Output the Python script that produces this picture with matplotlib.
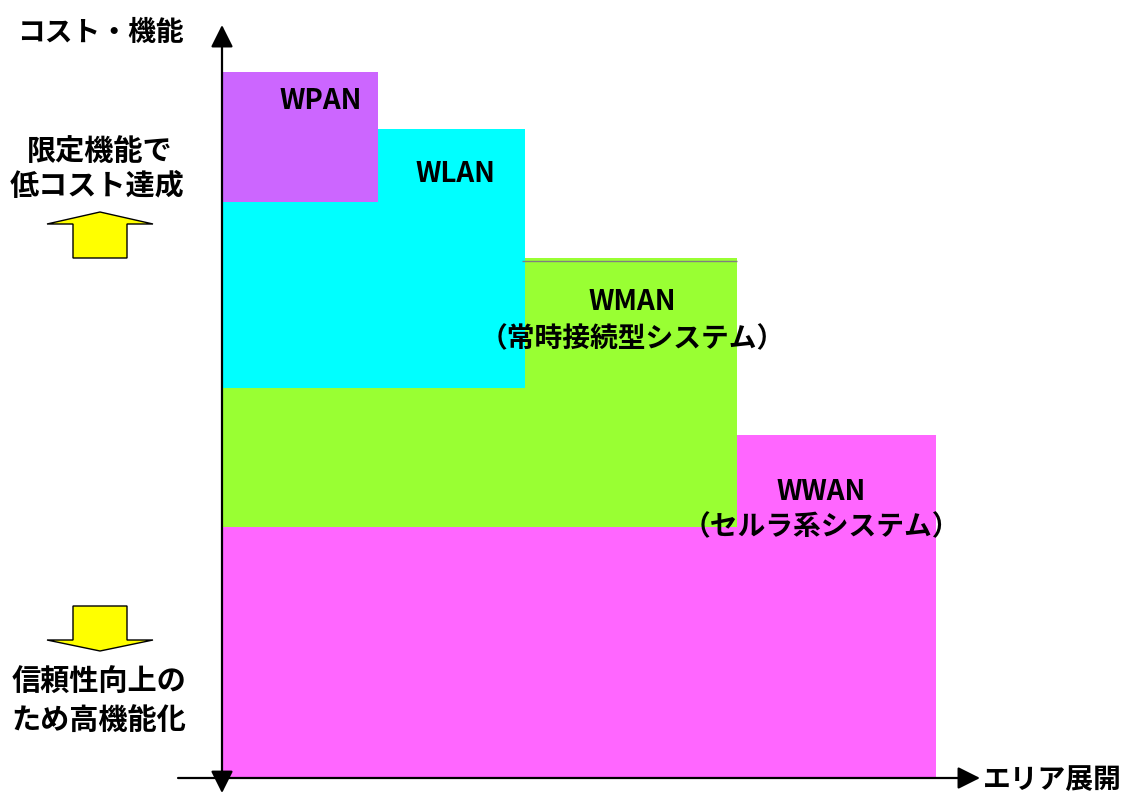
import matplotlib
matplotlib.use('Agg')
import matplotlib.pyplot as plt
from matplotlib.patches import FancyArrow

plt.rcParams['font.family'] = ['Noto Sans CJK JP', 'DejaVu Sans']

# wireless systems: area reach (x) and cost/function band (y), abstract units
systems = ['WWAN', 'WMAN', 'WLAN', 'WPAN']
area_start = [0, 0, 0, 0]
area_end = [9.42, 6.8, 4.0, 2.06]
cost_low = [0, 3.33, 5.18, 7.65]
cost_high = [4.56, 6.9, 8.62, 9.38]
colors = ['#FF66FF', '#99FF33', '#00FFFF', '#CC66FF']

sub_labels = {'WMAN': '（常時接続型システム）', 'WWAN': '（セルラ系システム）'}

W, H = 1122, 794
fig = plt.figure(figsize=(W / 100, H / 100), dpi=100)
fig.patch.set_facecolor('white')

# main chart area: origin at the axis crossing
ax = fig.add_axes([222 / W, 16 / H, 758 / W, 753 / H])
ax.set_xlim(0, 10)
ax.set_ylim(0, 10)
ax.axis('off')

for i, name in enumerate(systems):
    ax.bar(area_start[i], cost_high[i] - cost_low[i], width=area_end[i] - area_start[i],
           bottom=cost_low[i], align='edge', color=colors[i], linewidth=0, zorder=i + 1)

# thin grey edge along the top of the WMAN step
ax.hlines(cost_high[1] - 0.04, area_end[2] - 0.04, area_end[1], color='#808080', lw=1, zorder=5)

# axes with arrow heads
ax.annotate('', xy=(0, 10), xytext=(0, -0.2), xycoords='data',
            arrowprops=dict(arrowstyle='<|-|>', mutation_scale=34, lw=1.6, color='black',
                            shrinkA=0, shrinkB=0), annotation_clip=False, zorder=10)
ax.annotate('', xy=(10, 0), xytext=(-0.58, 0), xycoords='data',
            arrowprops=dict(arrowstyle='-|>', mutation_scale=34, lw=1.6, color='black',
                            shrinkA=0, shrinkB=0), annotation_clip=False, zorder=10)

# overlay in pixel space for labels and block arrows
ov = fig.add_axes([0, 0, 1, 1])
ov.set_xlim(0, W)
ov.set_ylim(H, 0)
ov.axis('off')
ov.patch.set_alpha(0)

kw = dict(fontsize=20, fontweight='bold', ha='center', va='center', color='black')
side = dict(kw, fontsize=21)
ov.text(321, 101, 'WPAN', **kw)
ov.text(455, 174, 'WLAN', **kw)
ov.text(632, 302, 'WMAN', **kw)
ov.text(632, 339, sub_labels['WMAN'], **kw)
ov.text(821, 492, 'WWAN', **kw)
ov.text(821, 527, sub_labels['WWAN'], **kw)

ov.text(100, 33, 'コスト・機能', **kw)
ov.text(100, 151, '限定機能で', **side)
ov.text(97, 186, '低コスト達成', **side)
ov.text(99, 682, '信頼性向上の', **side)
ov.text(99, 720, 'ため高機能化', **side)
ov.text(983, 780, 'エリア展開', fontsize=20, fontweight='bold', ha='left', va='center')

# yellow block arrows
ov.add_patch(FancyArrow(100, 258, 0, -46, width=54, head_width=106, head_length=12,
                        length_includes_head=True, facecolor='#FFFF00', edgecolor='black', lw=1))
ov.add_patch(FancyArrow(100, 606, 0, 45, width=54, head_width=106, head_length=11,
                        length_includes_head=True, facecolor='#FFFF00', edgecolor='black', lw=1))

fig.savefig('out.png', dpi=100)
